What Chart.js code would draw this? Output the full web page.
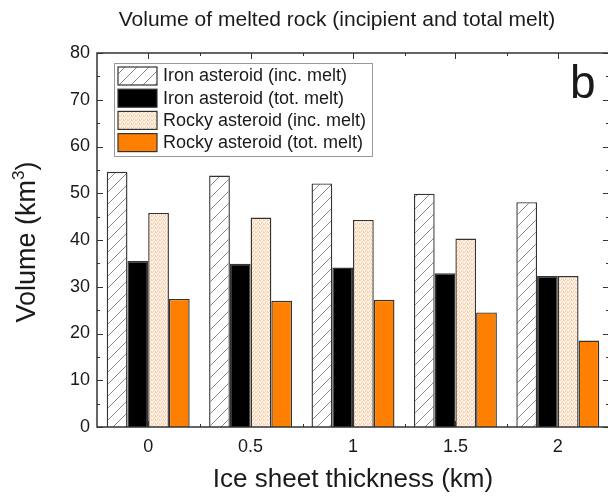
<!DOCTYPE html>
<html>
<head>
<meta charset="utf-8">
<script src="https://cdn.jsdelivr.net/npm/chart.js@4.4.0/dist/chart.umd.min.js"></script>
<style>
  html, body { margin: 0; padding: 0; background: #fff; overflow: hidden; }
  #wrap { position: relative; width: 620px; height: 499px; }
</style>
</head>
<body>
<div id="wrap"><canvas id="barChart" width="620" height="499"></canvas></div>
<script>
// data
const thickness = ['0', '0.5', '1', '1.5', '2'];
const ironInc = [54.6, 53.8, 52.1, 49.9, 48.1];
const ironTot = [35.5, 34.9, 34.1, 32.9, 32.3];
const rockyInc = [45.8, 44.8, 44.3, 40.3, 32.3];
const rockyTot = [27.4, 27.0, 27.2, 24.5, 18.5];
const seriesNames = ['Iron asteroid (inc. melt)', 'Iron asteroid (tot. melt)',
    'Rocky asteroid (inc. melt)', 'Rocky asteroid (tot. melt)'];
const yTicks = [0, 10, 20, 30, 40, 50, 60, 70, 80];

const FONT = "'Liberation Sans', Arial, sans-serif";
const TEXT = '#1a1a1a';
const EDGE = '#333';

function hatchPattern() {
    const c = document.createElement('canvas');
    c.width = 12; c.height = 12;
    const g = c.getContext('2d');
    g.fillStyle = '#fff';
    g.fillRect(0, 0, 12, 12);
    g.strokeStyle = '#8a8a8a';
    g.lineWidth = 1;
    g.beginPath();
    g.moveTo(-1, 13); g.lineTo(13, -1);
    g.moveTo(-7, 7); g.lineTo(7, -7);
    g.moveTo(5, 19); g.lineTo(19, 5);
    g.stroke();
    return g.createPattern(c, 'repeat');
}

function dotPattern() {
    const c = document.createElement('canvas');
    c.width = 4; c.height = 4;
    const g = c.getContext('2d');
    g.fillStyle = '#fff3e8';
    g.fillRect(0, 0, 4, 4);
    g.fillStyle = '#f8cfad';
    [[0, 0], [2, 1], [1, 2], [3, 3], [3, 0], [1, 3]].forEach(p => g.fillRect(p[0], p[1], 1, 1));
    return g.createPattern(c, 'repeat');
}

const fills = [hatchPattern(), '#000000', dotPattern(), '#ff8000'];

// frame, inward ticks, titles, legend and panel letter
const decorations = {
    id: 'decorations',
    beforeDatasetsDraw(chart) {
        const ctx = chart.ctx;
        const a = chart.chartArea;
        const x = chart.scales.x, y = chart.scales.y;
        ctx.save();
        ctx.strokeStyle = EDGE;
        ctx.lineWidth = 1;
        ctx.beginPath();
        for (let v = 0; v <= 80; v += 5) {
            const py = Math.round(y.getPixelForValue(v)) + 0.5;
            const len = v % 10 === 0 ? 6 : 3;
            ctx.moveTo(a.left, py); ctx.lineTo(a.left + len, py);
            ctx.moveTo(a.right, py); ctx.lineTo(a.right - len, py);
        }
        for (let i = 0; i < thickness.length; i++) {
            const cx = Math.round(x.getPixelForValue(i)) + 0.5;
            const half = (x.getPixelForValue(1) - x.getPixelForValue(0)) / 2;
            const bx = Math.round(cx + half) + 0.5;
            ctx.moveTo(cx, a.top); ctx.lineTo(cx, a.top + 6);
            ctx.moveTo(cx, a.bottom); ctx.lineTo(cx, a.bottom - 6);
            ctx.moveTo(bx, a.top); ctx.lineTo(bx, a.top + 3);
            ctx.moveTo(bx, a.bottom); ctx.lineTo(bx, a.bottom - 3);
        }
        ctx.stroke();
        ctx.restore();
    },
    afterDraw(chart) {
        const ctx = chart.ctx;
        const a = chart.chartArea;
        ctx.save();
        ctx.strokeStyle = EDGE;
        ctx.lineWidth = 1.5;
        ctx.strokeRect(a.left, a.top, a.right - a.left, a.bottom - a.top);

        ctx.fillStyle = TEXT;
        ctx.textAlign = 'center';
        ctx.textBaseline = 'middle';
        ctx.font = '21px ' + FONT;
        ctx.fillText('Volume of melted rock (incipient and total melt)', 337, 20);
        ctx.font = '26px ' + FONT;
        ctx.fillText('Ice sheet thickness (km)', (a.left + a.right) / 2, 480);

        ctx.save();
        ctx.translate(35, 242);
        ctx.rotate(-Math.PI / 2);
        ctx.textBaseline = 'alphabetic';
        ctx.font = '27px ' + FONT;
        const main = 'Volume (km';
        const w1 = ctx.measureText(main).width;
        ctx.font = '17px ' + FONT;
        const w2 = ctx.measureText('3').width;
        ctx.font = '27px ' + FONT;
        const w3 = ctx.measureText(')').width;
        let sx = -(w1 + w2 + w3) / 2;
        ctx.textAlign = 'left';
        ctx.fillText(main, sx, 0);
        ctx.font = '17px ' + FONT;
        ctx.fillText('3', sx + w1, -11);
        ctx.font = '27px ' + FONT;
        ctx.fillText(')', sx + w1 + w2, 0);
        ctx.restore();

        ctx.font = '46px ' + FONT;
        ctx.textAlign = 'left';
        ctx.textBaseline = 'alphabetic';
        ctx.fillText('b', 570, 98);

        // legend box
        ctx.fillStyle = '#fff';
        ctx.fillRect(114, 63, 258, 93);
        ctx.strokeStyle = '#999';
        ctx.lineWidth = 1;
        ctx.strokeRect(114.5, 63.5, 258, 93);
        ctx.font = '18px ' + FONT;
        ctx.textBaseline = 'middle';
        chart.data.datasets.forEach((ds, i) => {
            const top = 67 + i * 22.2;
            ctx.fillStyle = ds.backgroundColor;
            ctx.fillRect(118, top, 39, 18);
            ctx.strokeStyle = EDGE;
            ctx.lineWidth = 1.2;
            ctx.strokeRect(118, top, 39, 18);
            ctx.fillStyle = TEXT;
            ctx.fillText(ds.label, 163, top + 9.5);
        });
        ctx.restore();
    }
};

const ctx = document.getElementById('barChart').getContext('2d');
const barChart = new Chart(ctx, {
    type: 'bar',
    data: {
        labels: thickness,
        datasets: [ironInc, ironTot, rockyInc, rockyTot].map((vals, i) => ({
            label: seriesNames[i],
            data: vals,
            backgroundColor: fills[i],
            borderColor: EDGE,
            borderWidth: 1.4,
            borderSkipped: 'bottom',
            barPercentage: 1.0,
            categoryPercentage: 0.81
        }))
    },
    options: {
        responsive: false,
        animation: false,
        devicePixelRatio: 1,
        layout: { padding: { top: 53, left: 0, right: 11, bottom: 0 } },
        plugins: {
            legend: { display: false },
            title: { display: false },
            tooltip: { enabled: false }
        },
        scales: {
            x: {
                grid: { display: false, drawTicks: false },
                border: { display: false },
                ticks: { color: TEXT, font: { family: FONT, size: 18 }, padding: 9 },
                afterFit(scale) { scale.height = 72; }
            },
            y: {
                min: 0,
                max: 80,
                afterBuildTicks(scale) { scale.ticks = yTicks.map(v => ({ value: v })); },
                grid: { display: false, drawTicks: false },
                border: { display: false },
                ticks: { color: TEXT, font: { family: FONT, size: 18 }, padding: 7 },
                afterFit(scale) { scale.width = 97; }
            }
        }
    },
    plugins: [decorations]
});
</script>
</body>
</html>
